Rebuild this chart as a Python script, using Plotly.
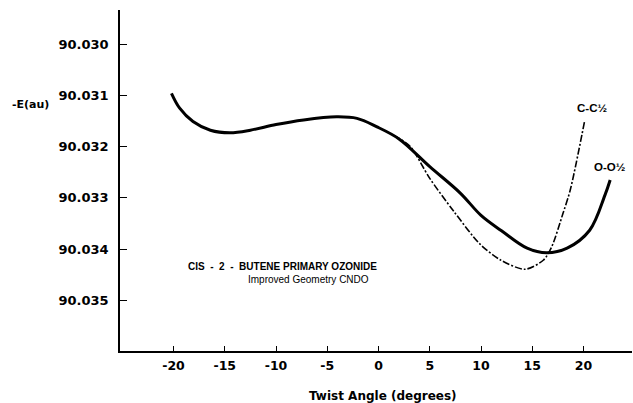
import plotly.graph_objects as go

# O-O 1/2 (solid) curve
oo_x = [-20.2, -19.4, -18.1, -16.4, -14.5, -12.5, -10.0, -7.3, -4.1, -2.1, -0.2, 2.0, 5.0, 8.0, 10.0, 12.0, 14.5, 16.4, 18.4, 20.6, 22.1, 22.6]
oo_y = [90.03096, 90.03125, 90.03151, 90.03168, 90.03173, 90.03168, 90.03157, 90.03148, 90.03142, 90.03145, 90.03161, 90.03185, 90.03239, 90.03291, 90.03334, 90.03364, 90.03398, 90.03407, 90.03398, 90.03363, 90.03294, 90.03265]

# C-C 1/2 (dashed) curve
cc_x = [1.5, 3.1, 5.0, 7.3, 9.9, 11.9, 14.3, 16.1, 16.9, 18.0, 18.7, 20.1]
cc_y = [90.03178, 90.03200, 90.03262, 90.03325, 90.03390, 90.03421, 90.03439, 90.03421, 90.03395, 90.03330, 90.03285, 90.03151]

x_ticks = [-20, -15, -10, -5, 0, 5, 10, 15, 20]
y_ticks = [90.030, 90.031, 90.032, 90.033, 90.034, 90.035]
y_tick_labels = ["90.030", "90.031", "90.032", "90.033", "90.034", "90.035"]

TICKFONT = "DejaVu Sans, sans-serif"
FONT = "Liberation Sans, Arial, sans-serif"

fig = go.Figure()
fig.add_trace(go.Scatter(x=oo_x, y=oo_y, mode="lines",
                         line=dict(color="black", width=3, shape="spline", smoothing=1.0),
                         showlegend=False, hoverinfo="skip"))
fig.add_trace(go.Scatter(x=cc_x, y=cc_y, mode="lines",
                         line=dict(color="black", width=1.6, shape="spline", smoothing=0.8, dash="7px,2px,2px,2px"),
                         showlegend=False, hoverinfo="skip"))

fig.update_layout(
    width=633, height=403,
    margin=dict(l=120, r=1, t=10, b=52),
    paper_bgcolor="white", plot_bgcolor="white",
    font=dict(family=FONT, color="black", size=11),
    xaxis=dict(range=[-25.22, 24.73], tickvals=x_ticks, ticktext=[str(v) for v in x_ticks],
               showline=True, linecolor="black", linewidth=1.5, ticks="inside", ticklen=5,
               tickcolor="black", showgrid=False, zeroline=False,
               tickfont=dict(family=TICKFONT, size=12.5, color="black", weight="bold"),
               ticklabelstandoff=2),
    yaxis=dict(range=[90.035984, 90.029337], tickvals=y_ticks, ticktext=y_tick_labels,
               showline=True, linecolor="black", linewidth=1.5, ticks="inside", ticklen=7,
               tickcolor="black", showgrid=False, zeroline=False,
               tickfont=dict(family=TICKFONT, size=13, color="black", weight="bold"),
               ticklabelstandoff=7),
)

anns = [
    dict(text="-E(au)", x=10, y=105, size=11, xanchor="left", fam=TICKFONT, w="bold"),
    dict(text="Twist Angle (degrees)", x=383, y=396, size=12, xanchor="center", fam=TICKFONT, w="bold"),
    dict(text="CIS  -  2  -  BUTENE PRIMARY OZONIDE", x=186, y=266, size=10, xanchor="left", fam=FONT, w="bold"),
    dict(text="Improved Geometry CNDO", x=246, y=279, size=10, xanchor="left", fam=FONT, w="normal"),
    dict(text="C-C½", x=575, y=108, size=11.5, xanchor="left", fam=FONT, w="bold"),
    dict(text="O-O½", x=592, y=167, size=11.5, xanchor="left", fam=FONT, w="bold"),
]
for a in anns:
    fig.add_annotation(text=a["text"], xref="paper", yref="paper",
                       x=(a["x"] - 120) / 512, y=(351 - a["y"]) / 341,
                       xanchor=a["xanchor"], yanchor="middle", showarrow=False,
                       font=dict(family=a["fam"], size=a["size"], color="black", weight=a["w"]))

fig.write_html("out.html", config={"displayModeBar": False},
               post_script="document.body.style.margin='0';document.body.style.overflow='hidden';")
